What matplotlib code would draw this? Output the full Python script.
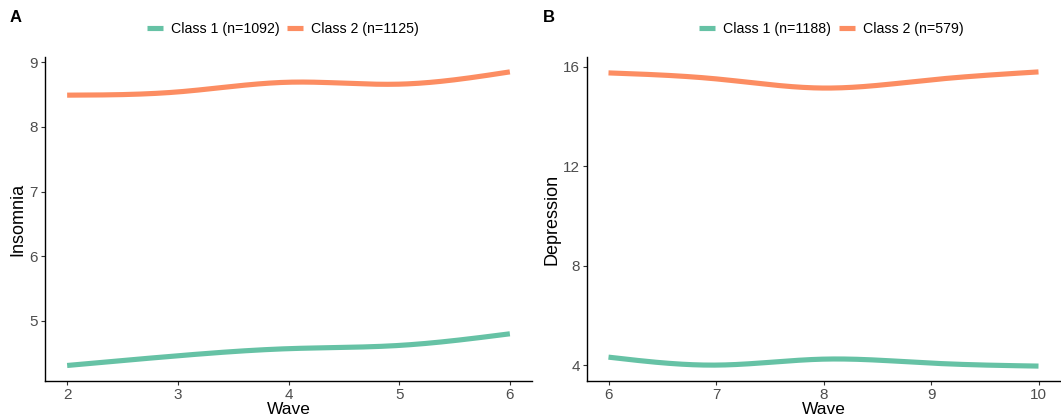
import numpy as np
import matplotlib
matplotlib.use("Agg")
import matplotlib.pyplot as plt
from matplotlib.lines import Line2D

plt.rcParams['font.family'] = ['Liberation Sans', 'DejaVu Sans']

# Panel A: Insomnia
waves_a = [2, 3, 4, 5, 6]
insomnia_c1 = [4.31, 4.46, 4.57, 4.62, 4.80]
insomnia_c2 = [8.49, 8.54, 8.69, 8.66, 8.85]
labels_a = ["Class 1 (n=1092)", "Class 2 (n=1125)"]

# Panel B: Depression
waves_b = [6, 7, 8, 9, 10]
depression_c1 = [4.32, 4.00, 4.24, 4.08, 3.96]
depression_c2 = [15.76, 15.52, 15.15, 15.48, 15.80]
labels_b = ["Class 1 (n=1188)", "Class 2 (n=579)"]

colors = ["#66C2A5", "#FC8D62"]


def natural_spline(x, y, n=200):
    x = np.asarray(x, float)
    y = np.asarray(y, float)
    k = len(x)
    h = np.diff(x)
    A = np.zeros((k, k))
    b = np.zeros(k)
    A[0, 0] = 1
    A[-1, -1] = 1
    for i in range(1, k - 1):
        A[i, i - 1] = h[i - 1]
        A[i, i] = 2 * (h[i - 1] + h[i])
        A[i, i + 1] = h[i]
        b[i] = 3 * ((y[i + 1] - y[i]) / h[i] - (y[i] - y[i - 1]) / h[i - 1])
    c = np.linalg.solve(A, b)
    xs = np.linspace(x[0], x[-1], n)
    ys = np.empty_like(xs)
    for j, xv in enumerate(xs):
        i = min(np.searchsorted(x, xv, side='right') - 1, k - 2)
        dx = xv - x[i]
        bi = (y[i + 1] - y[i]) / h[i] - h[i] * (2 * c[i] + c[i + 1]) / 3
        di = (c[i + 1] - c[i]) / (3 * h[i])
        ys[j] = y[i] + bi * dx + c[i] * dx ** 2 + di * dx ** 3
    return xs, ys


W, H = 1061, 418
fig = plt.figure(figsize=(W / 100, H / 100), dpi=100)

axA = fig.add_axes([45 / W, (H - 381) / H, 487 / W, (381 - 57) / H])
axB = fig.add_axes([587 / W, (H - 381) / H, 473 / W, (381 - 57) / H])


def style(ax, xlabel, ylabel, xticks, yticks, xlim, ylim, ylab_x):
    for s in ['top', 'right']:
        ax.spines[s].set_visible(False)
    for s in ['left', 'bottom']:
        ax.spines[s].set_color('black')
        ax.spines[s].set_linewidth(1.0)
    ax.set_xlim(*xlim)
    ax.set_ylim(*ylim)
    ax.set_xticks(xticks)
    ax.set_yticks(yticks)
    ax.tick_params(axis='both', direction='out', length=3, width=0.8,
                   color='#333333', labelcolor='#4D4D4D', labelsize=11, pad=2)
    ax.set_xlabel(xlabel, fontsize=12.5, color='black')
    ax.set_ylabel(ylabel, fontsize=13, color='black')
    bbox = ax.get_position()
    hpx = bbox.height * H
    wpx = bbox.width * W
    ax.xaxis.set_label_coords(0.5, -21 / hpx)
    ax.xaxis.label.set_verticalalignment('top')
    ax.yaxis.set_label_coords(ylab_x / wpx, 0.5)
    ax.yaxis.label.set_verticalalignment('center')


for ax, xw, s1, s2 in [
    (axA, waves_a, insomnia_c1, insomnia_c2),
    (axB, waves_b, depression_c1, depression_c2),
]:
    for ser, col in zip([s1, s2], colors):
        xs, ys = natural_spline(xw, ser)
        ax.plot(xs, ys, color=col, lw=3.7, solid_capstyle='butt')

style(axA, "Wave", "Insomnia", waves_a, [5, 6, 7, 8, 9], (1.8, 6.2), (4.07, 9.08), -27)
style(axB, "Wave", "Depression", waves_b, [4, 8, 12, 16], (5.8, 10.2), (3.36, 16.4), -35)

for labels, cx in [(labels_a, 283 / W), (labels_b, 831 / W)]:
    handles = [Line2D([0], [0], color=c, lw=3.7, solid_capstyle='butt') for c in colors]
    fig.legend(handles, labels, loc='center', bbox_to_anchor=(cx, 1 - 29 / H),
               ncol=2, frameon=False, fontsize=10.2, handlelength=1.13,
               handletextpad=0.56, columnspacing=0.56, borderaxespad=0)

fig.text(10 / W, 1 - 18 / H, "A", fontsize=12, fontweight='bold', va='center', ha='left')
fig.text(543 / W, 1 - 18 / H, "B", fontsize=12, fontweight='bold', va='center', ha='left')

fig.savefig("out.png", dpi=100)
